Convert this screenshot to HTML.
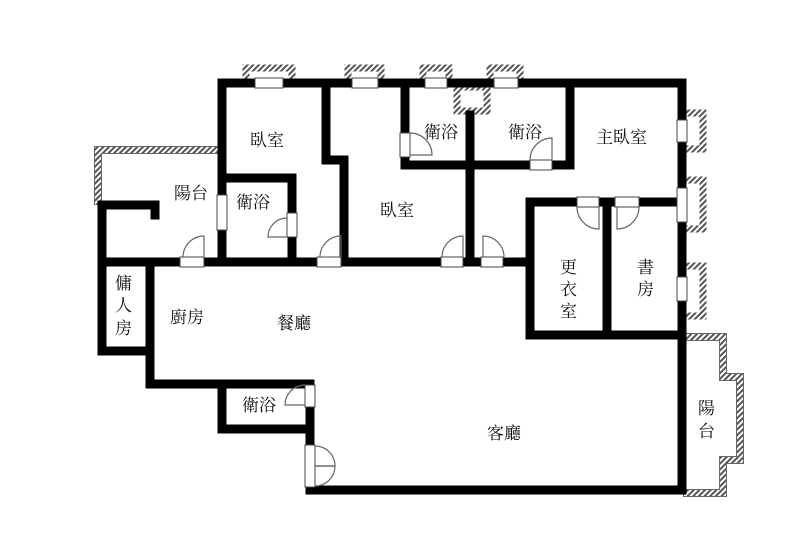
<!DOCTYPE html>
<html><head><meta charset="utf-8"><style>
html,body{margin:0;padding:0;background:#fff;}
svg{display:block;}
text{font-family:"Liberation Serif","Noto Serif CJK SC","Noto Sans CJK TC",serif;font-size:17px;fill:#111;}
</style></head><body>
<svg width="800" height="554" viewBox="0 0 800 554" xmlns="http://www.w3.org/2000/svg">
<rect width="800" height="554" fill="#fff"/>
<defs>
<pattern id="h" width="4" height="4" patternUnits="userSpaceOnUse" patternTransform="rotate(45)">
<rect width="4" height="4" fill="#fff"/><rect width="2" height="4" fill="#555"/></pattern>
</defs>
<g id="hatch" fill="none" stroke="url(#h)" stroke-width="7">
<polyline points="98,205 98,150 220,150"/>
<polyline points="683,337 723,337 723,377 740,377 740,460 723,460 723,493 683,493"/>
<polyline points="246,80 246,68 292,68 292,80"/>
<polyline points="348,80 348,68 381,68 381,80"/>
<polyline points="423,80 423,68 449,68 449,80"/>
<polyline points="490,80 490,68 520,68 520,80"/>
<polyline points="684,113 703,113 703,149 684,149"/>
<polyline points="684,180 703,180 703,229 684,229"/>
<polyline points="684,266 703,266 703,316 684,316"/>
<rect x="457" y="87" width="30" height="24"/>
</g>
<g fill="none" stroke="#666" stroke-width="1">
<polyline points="94.5,205 94.5,146.5 220,146.5"/>
<polyline points="101.5,205 101.5,153.5 220,153.5"/>
<polyline points="683,333.5 726.5,333.5 726.5,373.5 743.5,373.5 743.5,463.5 726.5,463.5 726.5,496.5 683,496.5"/>
<polyline points="683,340.5 719.5,340.5 719.5,380.5 736.5,380.5 736.5,456.5 719.5,456.5 719.5,489.5 683,489.5"/>
</g>
<!-- walls -->
<g fill="none" stroke="#000" stroke-width="9" stroke-linecap="square" stroke-linejoin="miter">
<polyline points="222,178 222,83 682,83 682,490 310,490 310,384 150,384 150,265"/>
<polyline points="102,205 102,351 150,351"/>
<polyline points="102,205 155,205 155,215"/>
<line x1="102" y1="262" x2="530" y2="262"/>
<polyline points="222,178 222,262"/>
<polyline points="222,178 292,178 292,262"/>
<polyline points="326,83 326,160 344,160 344,262"/>
<polyline points="405,83 405,165 570,165 570,83"/>
<line x1="470" y1="115" x2="470" y2="262"/>
<polyline points="530,262 530,202 682,202"/>
<polyline points="530,262 530,335 682,335"/>
<line x1="607" y1="202" x2="607" y2="335"/>
<polyline points="222,384 222,429 310,429"/>
</g>
<g fill="#fff" stroke="#444" stroke-width="1">
<rect x="255" y="78" width="28" height="10"/>
<rect x="352" y="78" width="26" height="10"/>
<rect x="425" y="78" width="22" height="10"/>
<rect x="494" y="78" width="24" height="10"/>
<rect x="677" y="120" width="10" height="22"/>
<rect x="677" y="188" width="10" height="34"/>
<rect x="677" y="277" width="10" height="24"/>
<rect x="217" y="195" width="10" height="35"/>
<rect x="287" y="213" width="10" height="24"/>
<rect x="400" y="133" width="10" height="24"/>
<rect x="180" y="257" width="24" height="10"/>
<rect x="317" y="257" width="24" height="10"/>
<rect x="441" y="257" width="22" height="10"/>
<rect x="481" y="257" width="22" height="10"/>
<rect x="530" y="160" width="22" height="10"/>
<rect x="577" y="197" width="22" height="10"/>
<rect x="615" y="197" width="24" height="10"/>
<rect x="305" y="385" width="10" height="22"/>
<rect x="305" y="445" width="10" height="42"/>
</g>
<g fill="none" stroke="#666" stroke-width="1.2">
<path d="M204,257 V236 A21,21 0 0 0 183,257"/>
<path d="M341,257 V236 A21,21 0 0 0 320,257"/>
<path d="M463,257 V236 A21,21 0 0 0 442,257"/>
<path d="M483,257 V236 A21,21 0 0 1 504,257"/>
<path d="M287,237 H268 A19,19 0 0 1 287,218"/>
<path d="M410,155 H432 A22,22 0 0 0 410,133"/>
<path d="M552,160 V138 A22,22 0 0 0 530,160"/>
<path d="M599,207 V229 A22,22 0 0 1 577,207"/>
<path d="M617,207 V229 A22,22 0 0 0 639,207"/>
<path d="M305,405 H285 A20,20 0 0 1 305,385"/>
<path d="M315,466 H335 A20,20 0 0 0 315,446"/>
<path d="M315,466 H335 A20,20 0 0 1 315,486"/>
</g>
<text x="250" y="146">臥室</text>
<text x="174" y="199">陽台</text>
<text x="236" y="208">衛浴</text>
<text x="380" y="216">臥室</text>
<text x="424" y="138">衛浴</text>
<text x="508" y="138">衛浴</text>
<text x="596" y="143">主臥室</text>
<text x="560" y="273">更</text>
<text x="560" y="295">衣</text>
<text x="560" y="317">室</text>
<text x="637" y="273">書</text>
<text x="637" y="295">房</text>
<text x="115" y="289">傭</text>
<text x="115" y="311">人</text>
<text x="115" y="334">房</text>
<text x="170" y="323">廚房</text>
<text x="277" y="329">餐廳</text>
<text x="242" y="411">衛浴</text>
<text x="487" y="439">客廳</text>
<text x="698" y="414">陽</text>
<text x="698" y="437">台</text>
</svg>
</body></html>
